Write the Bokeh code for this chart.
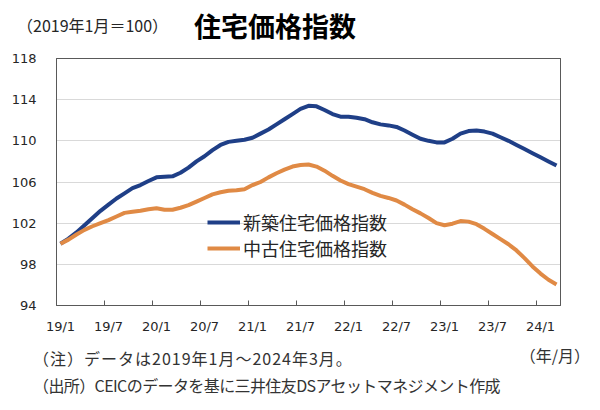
from bokeh.plotting import figure
from bokeh.models import (Range1d, FixedTicker, Legend, LegendItem, ColumnDataSource, Div, LinearAxis)
from bokeh.layouts import column
from bokeh.embed import file_html
from bokeh.resources import INLINE

# ---- data (monthly, 2019/1 - 2024/3) ----
month_labels = [f"{y % 100}/{m}" for y in range(2019, 2025) for m in range(1, 13)][:63]
new_homes = [100.0, 100.5, 101.1, 101.8, 102.5, 103.2, 103.8, 104.4, 104.9, 105.4,
             105.7, 106.1, 106.45, 106.5, 106.55, 106.9, 107.4, 108.0, 108.5, 109.1,
             109.6, 109.9, 110.0, 110.1, 110.3, 110.7, 111.1, 111.6, 112.1, 112.6,
             113.1, 113.4, 113.35, 113.0, 112.6, 112.35, 112.35, 112.25, 112.1, 111.8,
             111.6, 111.5, 111.35, 111.0, 110.6, 110.2, 110.0, 109.85, 109.85, 110.2,
             110.7, 110.95, 111.0, 110.9, 110.7, 110.35, 110.0, 109.6, 109.2, 108.8,
             108.4, 108.0, 107.6]
used_homes = [100.0, 100.4, 100.9, 101.35, 101.7, 102.0, 102.3, 102.65, 103.0, 103.1,
              103.2, 103.35, 103.45, 103.3, 103.3, 103.5, 103.75, 104.1, 104.45, 104.8,
              105.0, 105.15, 105.2, 105.3, 105.7, 106.0, 106.45, 106.85, 107.2, 107.5,
              107.65, 107.7, 107.5, 107.1, 106.6, 106.15, 105.8, 105.55, 105.3, 104.95,
              104.65, 104.45, 104.2, 103.8, 103.35, 102.95, 102.5, 102.0, 101.8, 101.95,
              102.2, 102.15, 101.9, 101.45, 100.95, 100.45, 99.95, 99.35, 98.6, 97.8,
              97.1, 96.5, 96.05]
series_names = ["新築住宅価格指数", "中古住宅価格指数"]
y_ticks = [94, 98, 102, 106, 110, 114, 118]
tick_labels = ["19/1", "19/7", "20/1", "20/7", "21/1", "21/7", "22/1", "22/7", "23/1", "23/7", "24/1"]
title_text = "住宅価格指数"
subtitle_text = "（2019年1月＝100）"
note_text = "（注）データは2019年1月～2024年3月。"
source_text = "（出所）CEICのデータを基に三井住友DSアセットマネジメント作成"
unit_text = "（年/月）"

idx = list(range(len(month_labels)))
src = ColumnDataSource(dict(x=idx, new=new_homes, used=used_homes, m=month_labels))

JP = "Noto Sans CJK JP"
NUM = "DejaVu Sans"
AX = "#595959"

p = figure(width=600, height=295, output_backend="svg", toolbar_location=None,
           x_range=Range1d(-0.5, len(idx) - 0.5), y_range=Range1d(94, 118),
           min_border_left=56, min_border_right=40, min_border_top=8, min_border_bottom=40)
p.outline_line_color = AX
p.outline_line_width = 1
p.background_fill_color = "white"
p.border_fill_color = "white"

major = [month_labels.index(t) for t in tick_labels]
minor = [v - 0.5 for v in major[1:]]
p.xaxis.ticker = FixedTicker(ticks=major, minor_ticks=minor)
p.xaxis.major_label_overrides = {i: month_labels[i] for i in major}
p.xaxis.major_tick_line_color = None
p.xaxis.minor_tick_line_color = AX
p.xaxis.minor_tick_in = 5
p.xaxis.minor_tick_out = 0
p.xaxis.major_tick_in = 0
p.xaxis.major_tick_out = 0
p.xaxis.major_label_standoff = 13
p.xaxis.axis_line_color = AX

p.yaxis.ticker = FixedTicker(ticks=y_ticks)
p.yaxis.major_tick_line_color = None
p.yaxis.minor_tick_line_color = None
p.yaxis.major_tick_in = 0
p.yaxis.major_tick_out = 0
p.yaxis.major_label_standoff = 20
p.yaxis.axis_line_color = AX

for ax in (p.xaxis, p.yaxis):
    ax.major_label_text_font = NUM
    ax.major_label_text_font_size = "13px"
    ax.major_label_text_color = "#262626"

# plain frame lines on top and right
for place in ("above", "right"):
    fa = LinearAxis(ticker=FixedTicker(ticks=[]), axis_line_color=AX,
                    major_tick_line_color=None, minor_tick_line_color=None,
                    major_label_text_font_size="0px", major_label_standoff=0,
                    major_tick_in=0, major_tick_out=0, minor_tick_in=0, minor_tick_out=0)
    p.add_layout(fa, place)

p.xgrid.grid_line_color = None
p.ygrid.grid_line_color = "#d9d9d9"
p.ygrid.grid_line_width = 1

r1 = p.line("x", "new", source=src, line_color="#1f3f87", line_width=4)
r2 = p.line("x", "used", source=src, line_color="#e08a45", line_width=4)

legend = Legend(items=[LegendItem(label=series_names[0], renderers=[r1]),
                       LegendItem(label=series_names[1], renderers=[r2])],
                location=(151, 44), padding=0, margin=0, spacing=0,
                glyph_width=33, glyph_height=20, label_height=20, label_standoff=3,
                label_text_font=JP, label_text_font_size="18px", label_text_color="#262626",
                border_line_color=None, background_fill_alpha=0)
p.add_layout(legend)

def span(text, style):
    return (f'<span style="position:absolute;white-space:nowrap;line-height:1;'
            f'font-family:\'{JP}\';{style}">{text}</span>')

header = Div(width=600, height=50, margin=0, text=(
    '<div style="position:relative;width:600px;height:50px;">'
    + span(subtitle_text, "left:17px;top:25px;transform:translateY(-50%);font-size:16px;color:#262626;")
    + span(title_text, "left:275px;top:25px;transform:translate(-50%,-50%);font-size:27px;font-weight:bold;color:#000;")
    + '</div>'))

footer = Div(width=600, height=60, margin=0, text=(
    '<div style="position:relative;width:600px;height:60px;">'
    + span(note_text, "left:33px;top:13px;transform:translateY(-50%);font-size:16px;letter-spacing:1.0px;color:#333;")
    + span(unit_text, "right:10px;top:10px;transform:translateY(-50%);font-size:16px;color:#333;")
    + span(source_text, "left:33px;top:40px;transform:translateY(-50%);font-size:16px;letter-spacing:-0.6px;color:#333;")
    + '</div>'))

page = column(header, p, footer, spacing=0)
open("out.html", "w").write(file_html(page, INLINE))
